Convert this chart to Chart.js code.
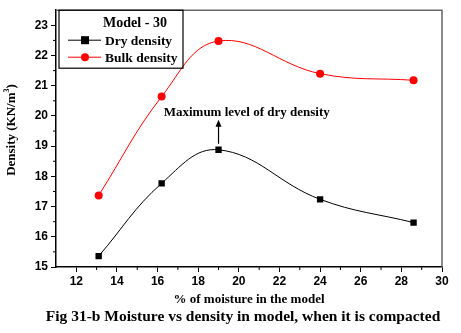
<!DOCTYPE html>
<html lang="en">
<head>
    <meta charset="UTF-8">
    <title>Moisture vs density</title>
    <script src="https://cdn.jsdelivr.net/npm/chart.js"></script>
    <style>
        body { margin: 0; background: #fff; }
        #wrap { width: 461px; height: 333px; }
    </style>
</head>
<body>
    <div id="wrap"><canvas id="chartCanvas" width="461" height="333"></canvas></div>

    <script>
        // values
        const moisture = [13.1, 16.2, 19.0, 24.0, 28.6];
        const dryDensity = [15.36, 17.77, 18.88, 17.24, 16.47];
        const bulkDensity = [17.37, 20.64, 22.48, 21.40, 21.18];
        const legendTitle = 'Model - 30';
        const noteText = 'Maximum level of dry density';
        const xTitle = '% of moisture in the model';
        const yTitle = 'Density (KN/m';
        const caption = 'Fig 31-b Moisture vs density in model, when it is compacted';

        const serif = (px) => 'bold ' + px + 'px "Liberation Serif", "Times New Roman", serif';
        const tickFont = { family: '"Liberation Sans", Arial, sans-serif', size: 12, weight: 'bold' };

        // minor ticks, frame, legend box, note and titles
        const decorations = {
            id: 'decorations',
            afterDraw(chart) {
                const ctx = chart.ctx;
                const area = chart.chartArea;
                const xs = chart.scales.x;
                const ys = chart.scales.y;
                ctx.save();

                // top and right frame
                ctx.strokeStyle = '#666';
                ctx.lineWidth = 1.5;
                ctx.beginPath();
                ctx.moveTo(area.left, area.top);
                ctx.lineTo(area.right, area.top);
                ctx.lineTo(area.right, area.bottom);
                ctx.stroke();

                // minor ticks
                ctx.strokeStyle = '#000';
                ctx.lineWidth = 1;
                ctx.beginPath();
                for (let v = 13; v < 30; v += 2) {
                    const px = xs.getPixelForValue(v);
                    ctx.moveTo(px, area.bottom);
                    ctx.lineTo(px, area.bottom + 3);
                }
                for (let v = 15.5; v < 23.5; v += 1) {
                    const py = ys.getPixelForValue(v);
                    ctx.moveTo(area.left, py);
                    ctx.lineTo(area.left - 3, py);
                }
                ctx.stroke();

                // legend
                const lx = area.left + 3, ly = area.top;
                ctx.strokeStyle = '#000';
                ctx.lineWidth = 1.2;
                ctx.strokeRect(lx, ly, 124, 58);
                ctx.fillStyle = '#000';
                ctx.font = serif(14);
                ctx.textAlign = 'center';
                ctx.textBaseline = 'middle';
                ctx.fillText(legendTitle, lx + 76, ly + 13);
                ctx.textAlign = 'left';
                ctx.font = serif(13.5);
                chart.data.datasets.forEach((ds, i) => {
                    const ey = ly + 30 + i * 17;
                    ctx.strokeStyle = ds.borderColor;
                    ctx.lineWidth = 1;
                    ctx.beginPath();
                    ctx.moveTo(lx + 9, ey);
                    ctx.lineTo(lx + 42, ey);
                    ctx.stroke();
                    ctx.fillStyle = ds.pointBackgroundColor;
                    if (ds.pointStyle === 'rect') {
                        ctx.fillRect(lx + 22, ey - 4, 8, 8);
                    } else {
                        ctx.beginPath();
                        ctx.arc(lx + 26, ey, 4, 0, Math.PI * 2);
                        ctx.fill();
                    }
                    ctx.fillStyle = '#000';
                    ctx.fillText(ds.label, lx + 46, ey + 1);
                });

                // note with arrow
                const ax = xs.getPixelForValue(moisture[2]);
                const ayBottom = ys.getPixelForValue(dryDensity[2]) - 6;
                const ayTop = ys.getPixelForValue(dryDensity[2]) - 30;
                ctx.strokeStyle = '#000';
                ctx.lineWidth = 1.2;
                ctx.beginPath();
                ctx.moveTo(ax, ayBottom);
                ctx.lineTo(ax, ayTop + 5);
                ctx.stroke();
                ctx.beginPath();
                ctx.moveTo(ax, ayTop);
                ctx.lineTo(ax - 3, ayTop + 7);
                ctx.lineTo(ax + 3, ayTop + 7);
                ctx.closePath();
                ctx.fillStyle = '#000';
                ctx.fill();
                ctx.font = serif(13);
                ctx.textAlign = 'left';
                ctx.fillText(noteText, xs.getPixelForValue(16.3), ayTop - 7);

                // axis titles and caption
                ctx.textAlign = 'center';
                ctx.fillText(xTitle, (area.left + area.right) / 2, area.bottom + 33);
                ctx.font = serif(15.5);
                ctx.fillText(caption, 243, area.bottom + 50);

                ctx.translate(12, 130);
                ctx.rotate(-Math.PI / 2);
                ctx.font = serif(13);
                const w = ctx.measureText(yTitle).width;
                const sw = ctx.measureText(')').width;
                ctx.font = serif(8);
                const supW = ctx.measureText('3').width;
                const start = -(w + supW + sw) / 2;
                ctx.textAlign = 'left';
                ctx.font = serif(13);
                ctx.fillText(yTitle, start, 0);
                ctx.font = serif(8);
                ctx.fillText('3', start + w, -5);
                ctx.font = serif(13);
                ctx.fillText(')', start + w + supW, 0);
                ctx.restore();
            }
        };

        const chart = new Chart(document.getElementById('chartCanvas'), {
            type: 'line',
            data: {
                datasets: [{
                    label: 'Dry density',
                    data: moisture.map((x, i) => ({ x: x, y: dryDensity[i] })),
                    borderColor: '#000',
                    borderWidth: 1,
                    pointStyle: 'rect',
                    pointRadius: 4.5,
                    pointBackgroundColor: '#000',
                    pointBorderWidth: 0,
                    tension: 0.4
                }, {
                    label: 'Bulk density',
                    data: moisture.map((x, i) => ({ x: x, y: bulkDensity[i] })),
                    borderColor: '#ff0000',
                    borderWidth: 1,
                    pointStyle: 'circle',
                    pointRadius: 4,
                    pointBackgroundColor: '#ff0000',
                    pointBorderWidth: 0,
                    tension: 0.4
                }]
            },
            options: {
                responsive: false,
                animation: false,
                layout: { padding: { top: 8, right: 19, left: 0, bottom: 0 } },
                plugins: { legend: { display: false }, tooltip: { enabled: false } },
                scales: {
                    x: {
                        type: 'linear',
                        min: 11,
                        max: 30,
                        afterFit(scale) { scale.height = 66; },
                        afterBuildTicks(scale) {
                            scale.ticks = [12, 14, 16, 18, 20, 22, 24, 26, 28, 30].map(v => ({ value: v }));
                        },
                        ticks: { color: '#000', font: tickFont, padding: 2, maxRotation: 0 },
                        grid: { drawOnChartArea: false, tickLength: 5, tickColor: '#000' },
                        border: { color: '#000', width: 1.5 }
                    },
                    y: {
                        min: 15,
                        max: 23.5,
                        afterFit(scale) { scale.width = 56; },
                        afterBuildTicks(scale) {
                            scale.ticks = [15, 16, 17, 18, 19, 20, 21, 22, 23].map(v => ({ value: v }));
                        },
                        ticks: { color: '#000', font: tickFont, padding: 3 },
                        grid: { drawOnChartArea: false, tickLength: 5, tickColor: '#000' },
                        border: { color: '#000', width: 1.5 }
                    }
                }
            },
            plugins: [decorations]
        });
    </script>
</body>
</html>
